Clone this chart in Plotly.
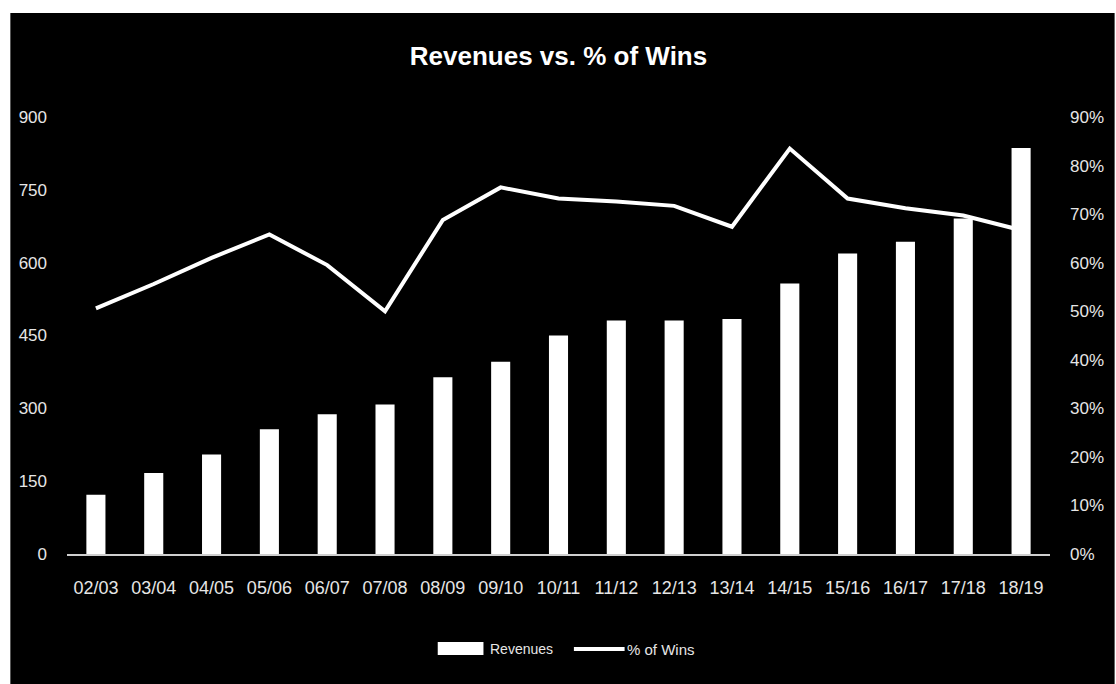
import plotly.graph_objects as go

# Season labels and the two series
seasons = ["02/03", "03/04", "04/05", "05/06", "06/07", "07/08", "08/09", "09/10",
           "10/11", "11/12", "12/13", "13/14", "14/15", "15/16", "16/17", "17/18", "18/19"]
revenues = [122, 167, 205, 257, 288, 308, 364, 396, 450, 481, 481, 484, 557, 619, 643, 691, 836]
win_pct = [50.6, 55.6, 61.0, 65.8, 59.5, 50.0, 68.8, 75.5, 73.2, 72.6, 71.7, 67.4, 83.5, 73.2, 71.2, 69.7, 66.7]

left_ticks = [0, 150, 300, 450, 600, 750, 900]
right_ticks = [0, 10, 20, 30, 40, 50, 60, 70, 80, 90]
right_labels = [f"{v}%" for v in right_ticks]

FONT = "Liberation Sans, Arial, sans-serif"
TXT = "#e6e6e6"
W, H = 1116, 684
L, R, T, B = 67, 60, 117, 130
pw, ph = W - L - R, H - T - B


def px_x(x):
    return (x - L) / pw


def px_y(y):
    return (H - B - y) / ph


fig = go.Figure()
fig.add_trace(go.Bar(x=seasons, y=revenues, name="Revenues",
                     marker=dict(color="white", line=dict(width=0)),
                     yaxis="y", showlegend=False))
fig.add_trace(go.Scatter(x=seasons, y=win_pct, name="% of Wins", mode="lines",
                         line=dict(color="white", width=4),
                         yaxis="y2", showlegend=False))

# black panel behind the chart, leaving a thin white border top and left
fig.add_shape(type="rect", xref="paper", yref="paper",
              x0=px_x(10), x1=px_x(W + 5), y0=px_y(H + 5), y1=px_y(13),
              fillcolor="black", line=dict(width=0), layer="below")

# legend drawn by hand
fig.add_shape(type="rect", xref="paper", yref="paper",
              x0=px_x(440), x1=px_x(486), y0=px_y(655), y1=px_y(642),
              fillcolor="white", line=dict(width=0))
fig.add_shape(type="line", xref="paper", yref="paper",
              x0=px_x(577), x1=px_x(628), y0=px_y(649), y1=px_y(649),
              line=dict(color="white", width=4))
fig.add_annotation(text="Revenues", xref="paper", yref="paper",
                   x=px_x(491), y=px_y(649), xanchor="left", yanchor="middle",
                   showarrow=False, font=dict(family=FONT, size=14, color=TXT))
fig.add_annotation(text="% of Wins", xref="paper", yref="paper",
                   x=px_x(628), y=px_y(649), xanchor="left", yanchor="middle",
                   showarrow=False, font=dict(family=FONT, size=15, color=TXT))

fig.update_layout(
    width=W, height=H,
    margin=dict(l=L, r=R, t=T, b=B),
    paper_bgcolor="white", plot_bgcolor="black",
    bargap=0.67,
    title=dict(text="<b>Revenues vs. % of Wins</b>", x=0.5, xanchor="center",
               y=1 - 56 / H, yanchor="middle", xref="paper",
               font=dict(family=FONT, size=26, color="white")),
    xaxis=dict(showgrid=False, zeroline=False, showline=True, linecolor="#cfcfcf",
               linewidth=2, ticks="", tickangle=0, ticklabelstandoff=16,
               tickfont=dict(family=FONT, size=18, color=TXT)),
    yaxis=dict(range=[0, 900], tickvals=left_ticks, showgrid=False, zeroline=False,
               showline=False, ticks="", ticklabelstandoff=19,
               tickfont=dict(family=FONT, size=17, color=TXT)),
    yaxis2=dict(range=[0, 90], tickvals=right_ticks, ticktext=right_labels,
                overlaying="y", side="right", showgrid=False, zeroline=False,
                showline=False, ticks="", ticklabelstandoff=19,
                tickfont=dict(family=FONT, size=17, color=TXT)),
)

fig.write_html("out.html")
